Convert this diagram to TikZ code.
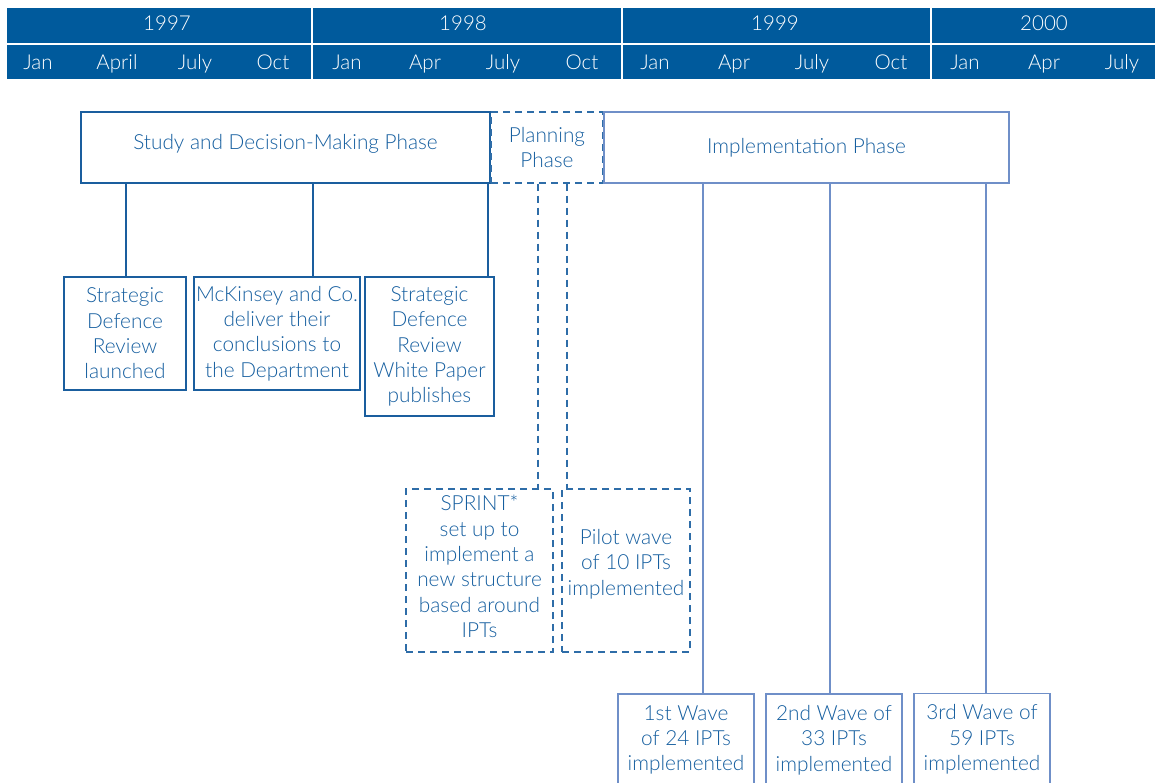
\documentclass[tikz,border=0pt]{standalone}
\usepackage{fontspec}
\setmainfont{Lato Light}
\definecolor{hdrblue}{HTML}{005A9C}
\definecolor{textblue}{HTML}{155E9F}
\definecolor{studyblue}{HTML}{1A5E9E}
\definecolor{planblue}{HTML}{2E6DA8}
\definecolor{implblue}{HTML}{6F8FC8}
\begin{document}
\begin{tikzpicture}[x=1pt,y=-1pt,
  hdrtxt/.style={text=white, font=\fontsize{20.5}{24}\selectfont, anchor=base, inner sep=0pt},
  txt/.style={text=textblue, font=\fontsize{20.8}{25.3}\selectfont, align=center, inner sep=0pt},
  studybox/.style={txt, draw=studyblue, line width=2.8pt},
  planbox/.style={txt, draw=planblue, line width=1.4pt, dash pattern=on 7pt off 5pt},
  implbox/.style={txt, draw=implblue, line width=1.3pt},
  studyline/.style={draw=studyblue, line width=2.8pt},
  planline/.style={draw=planblue, line width=1.4pt, dash pattern=on 7pt off 5pt},
  implline/.style={draw=implblue, line width=1.3pt}
]
\useasboundingbox (0,0) rectangle (1155,783);
\clip (0,0) rectangle (1155,783);

% timeline header: year row and month row
\fill[hdrblue] (7,8) rectangle (1155,43.3);
\fill[hdrblue] (7,45.5) rectangle (1155,79);
\foreach \sx in {312,622,931}
  \draw[white, line width=2.2pt] (\sx,8) -- (\sx,79);
\foreach \yx/\yr in {167/1997,463/1998,775/1999,1044/2000}
  \node[hdrtxt] (y\yr) at (\yx,31) {\yr};
\foreach \mx/\mn [count=\i] in {38/Jan,117/April,195/July,273/Oct,
    347/Jan,425/Apr,503/July,582/Oct,
    655/Jan,734/Apr,812/July,891/Oct,
    965/Jan,1044/Apr,1122/July}
  \node[hdrtxt] (m\i) at (\mx,70) {\mn};

% phase boxes
\node[studybox, minimum width=409pt, minimum height=71pt] (study) at (285.5,147.5) {};
\node[txt] (studytxt) at (285.5,144) {Study and Decision-Making Phase};
\node[planbox, minimum width=112pt, minimum height=71pt] (plan) at (547,147.5)
  {Planning\\Phase};
\node[implbox, minimum width=405pt, minimum height=71pt] (impl) at (806.5,147.5)
  {Implementation Phase};

% study and decision-making events
\node[studybox, minimum width=122pt, minimum height=113pt] (sdr) at (125,333.5)
  {Strategic\\Defence\\Review\\launched};
\node[studybox, minimum width=166pt, minimum height=113pt] (mck) at (277,333.5)
  {McKinsey and Co.\\deliver their\\conclusions to\\the Department};
\node[studybox, minimum width=129pt, minimum height=139pt] (wp) at (429.5,346.5)
  {Strategic\\Defence\\Review\\White Paper\\publishes};

% planning events
\node[planbox, minimum width=147pt, minimum height=163pt] (sprint) at (479.5,570.5) {};
\node[txt] (sprinttxt) at (479.5,566.5)
  {SPRINT*\\set up to\\implement a\\new structure\\based around\\IPTs};
\node[planbox, minimum width=128pt, minimum height=163pt] (pilot) at (626,570.5) {};
\node[txt] (pilottxt) at (626,564) {Pilot wave\\of 10 IPTs\\implemented};

% implementation waves
\node[implbox, minimum width=136pt, minimum height=92pt] (w1) at (686,740)
  {1st Wave\\of 24 IPTs\\implemented};
\node[implbox, minimum width=136pt, minimum height=92pt] (w2) at (834,740)
  {2nd Wave of\\33 IPTs\\implemented};
\node[implbox, minimum width=136pt, minimum height=92pt] (w3) at (982,739.5)
  {3rd Wave of\\59 IPTs\\implemented};

% connectors
\draw[studyline] ([xshift=1pt]sdr.north) -- ([xshift=1pt]sdr.north |- study.south);
\draw[studyline] ([xshift=36pt]mck.north) -- ([xshift=36pt]mck.north |- study.south);
\draw[studyline] ([xshift=58.5pt]wp.north) -- ([xshift=58.5pt]wp.north |- study.south);
\draw[planline] ([xshift=-9pt]plan.south) -- ([xshift=-9pt]plan.south |- sprint.north);
\draw[planline] ([xshift=20pt]plan.south) -- ([xshift=20pt]plan.south |- pilot.north);
\draw[implline] ([xshift=17pt]w1.north) -- ([xshift=17pt]w1.north |- impl.south);
\draw[implline] ([xshift=-4pt]w2.north) -- ([xshift=-4pt]w2.north |- impl.south);
\draw[implline] ([xshift=4pt]w3.north) -- ([xshift=4pt]w3.north |- impl.south);
\end{tikzpicture}
\end{document}
